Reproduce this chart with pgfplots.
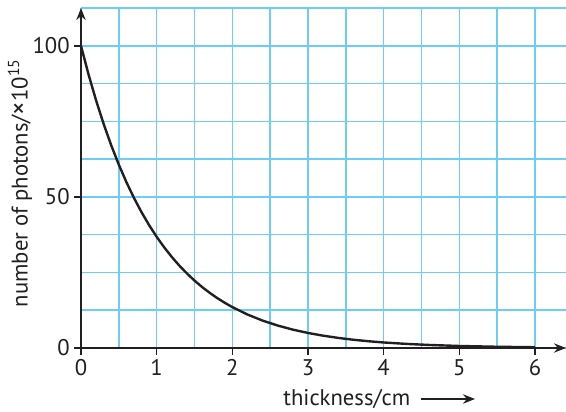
\documentclass[border=0pt]{standalone}
\usepackage{pgfplots}
\pgfplotsset{compat=1.18}
\usepackage{fontspec}
\setmainfont{PT Sans}
\usetikzlibrary{arrows.meta}
\definecolor{gridblue}{RGB}{108,205,246}
\definecolor{ink}{RGB}{35,31,32}
\begin{document}
\begin{tikzpicture}[x=1pt,y=1pt]
\begin{axis}[
  at={(0,0)}, anchor=south west,
  scale only axis,
  width=363.75pt, height=255pt,
  xmin=0, xmax=6.41, ymin=0, ymax=112.5,
  axis x line=bottom, axis y line=left,
  axis line style={ink, line width=1.1pt, -{Stealth[length=9pt,width=7pt]}},
  xtick={0,1,2,3,4,5,6},
  minor xtick={0.5,1.5,2.5,3.5,4.5,5.5},
  ytick={0,50,100},
  minor ytick={12.5,25,37.5,62.5,75,87.5,112.5},
  grid=both,
  major grid style={gridblue, line width=1.1pt},
  minor grid style={gridblue, line width=1.1pt},
  tick align=outside,
  major tick length=5pt,
  minor tick length=0pt,
  tick style={ink, line width=1.1pt},
  /pgf/number format/assume math mode=true,
  ticklabel style={font=\fontsize{17}{20}\selectfont, text=ink},
  ylabel={number of photons/{\fontsize{20}{20}\selectfont×}10\textsuperscript{15}},
  ylabel style={font=\fontsize{17}{20}\selectfont, text=ink, at={(axis description cs:-0.1258,0.485)}, anchor=center},
  xlabel={thickness/cm},
  xlabel style={font=\fontsize{17}{20}\selectfont, text=ink, at={(axis description cs:0.548,0)}, anchor=base, yshift=-42.75pt},
  clip=false,
]
\addplot[ink, line width=1.8pt] coordinates {
(0,100) (0.1,90.48) (0.2,81.87) (0.3,74.08) (0.4,67.03) (0.5,60.65)
(0.6,54.88) (0.7,49.66) (0.8,44.93) (0.9,40.66) (1.0,36.79) (1.1,33.29)
(1.2,30.12) (1.3,27.25) (1.4,24.66) (1.5,22.31) (1.6,20.19) (1.7,18.27)
(1.8,16.53) (1.9,14.96) (2.0,13.53) (2.2,11.08) (2.4,9.07) (2.6,7.43)
(2.8,6.08) (3.0,4.98) (3.2,4.08) (3.4,3.34) (3.6,2.73) (3.8,2.24)
(4.0,1.83) (4.3,1.36) (4.6,1.01) (5.0,0.67) (5.5,0.41) (6.0,0.25)
};
\end{axis}
\draw[ink, line width=1.5pt, -{Stealth[length=9pt,width=7pt]}] (255,-38.25) -- (295.5,-38.25);
\pgfresetboundingbox
\path[use as bounding box] (-60.75,-47.25) rectangle (363.75,261);
\end{tikzpicture}
\end{document}
